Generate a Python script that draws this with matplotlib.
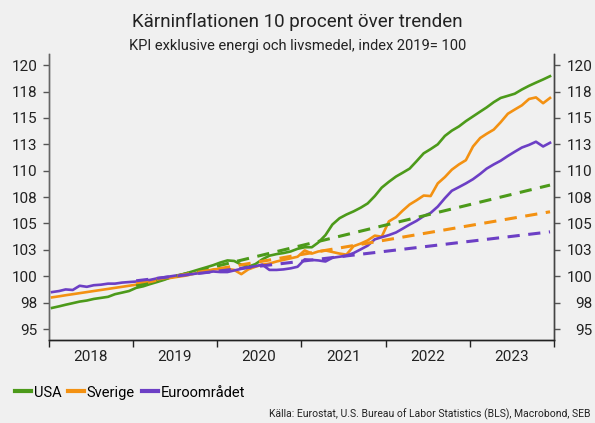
import matplotlib
matplotlib.use("Agg")
import matplotlib.pyplot as plt
import matplotlib.dates as mdates
import pandas as pd

# Månadsdata jan 2018 - dec 2023, index 2019 = 100
usa = [
    97.0, 97.15, 97.3, 97.45, 97.6, 97.7, 97.85, 97.95, 98.05, 98.3, 98.45, 98.6,
    98.9, 99.05, 99.25, 99.45, 99.65, 99.9, 100.05, 100.25, 100.45, 100.65, 100.85, 101.05,
    101.3, 101.5, 101.45, 101.1, 100.9, 101.15, 101.6, 101.95, 102.1, 102.2, 102.35, 102.6,
    102.75, 102.75, 103.2, 103.9, 104.9, 105.5, 105.85, 106.15, 106.5, 106.9, 107.6, 108.4,
    108.95, 109.45, 109.8, 110.2, 110.9, 111.65, 112.05, 112.5, 113.3, 113.8, 114.2, 114.7,
    115.15, 115.6, 116.0, 116.5, 116.9, 117.1, 117.3, 117.7, 118.05, 118.35, 118.65, 118.96,
]
sverige = [
    98.0, 98.1, 98.2, 98.3, 98.4, 98.5, 98.6, 98.7, 98.8, 98.9, 99.0, 99.1,
    99.2, 99.3, 99.45, 99.6, 99.75, 99.85, 99.95, 100.05, 100.2, 100.35, 100.5, 100.65,
    100.7, 100.7, 100.6, 100.2, 100.65, 100.9, 101.1, 101.2, 101.4, 101.55, 101.7, 101.85,
    102.45, 102.15, 102.35, 102.45, 102.3, 102.15, 102.05, 102.85, 103.1, 103.4, 103.85, 103.75,
    105.2, 105.6, 106.2, 106.8, 107.2, 107.65, 107.6, 108.8, 109.4, 110.1, 110.6, 111.0,
    112.3, 113.1, 113.5, 113.9, 114.6, 115.4, 115.8, 116.2, 116.8, 116.95, 116.4, 116.9,
]
euro = [
    98.5, 98.6, 98.75, 98.7, 99.1, 99.0, 99.15, 99.2, 99.3, 99.3, 99.4, 99.45,
    99.5, 99.55, 99.65, 99.8, 99.9, 100.0, 100.1, 100.15, 100.2, 100.3, 100.35, 100.45,
    100.4, 100.4, 100.55, 100.7, 100.85, 100.95, 101.1, 100.6, 100.6, 100.65, 100.75, 100.9,
    101.6, 101.55, 101.5, 101.4, 101.75, 101.85, 101.95, 102.2, 102.55, 102.9, 103.5, 103.7,
    103.9, 104.15, 104.5, 104.9, 105.25, 105.7, 106.0, 106.6, 107.4, 108.1, 108.45, 108.8,
    109.2, 109.7, 110.2, 110.6, 110.95, 111.4, 111.8, 112.2, 112.45, 112.75, 112.3, 112.65,
]

# Trendlinjer: värde i jan 2019 och dec 2023
trend_usa = [99.1, 108.64]
trend_sverige = [99.37, 106.11]
trend_euro = [99.57, 104.21]

serier = ["USA", "Sverige", "Euroområdet"]
farger = ["#4c9a1a", "#f39112", "#6c3fc5"]

yticks = [95, 97.5, 100, 102.5, 105, 107.5, 110, 112.5, 115, 117.5, 120]
ytick_labels = ["95", "98", "100", "103", "105", "108", "110", "113", "115", "118", "120"]

bg = "#f0f0f0"
plt.rcParams["font.family"] = ["Roboto", "DejaVu Sans"]

datum = pd.date_range("2018-01-01", periods=72, freq="MS") + pd.Timedelta(days=14)
trend_datum = [datum[12], datum[-1]]

fig = plt.figure(figsize=(5.95, 4.23), dpi=100, facecolor=bg)
ax = fig.add_axes([0.082, 0.196, 0.849, 0.676], facecolor=bg)

for namn, data, farg in zip(serier, [usa, sverige, euro], farger):
    ax.plot(datum, data, color=farg, lw=1.9, label=namn, zorder=3,
            solid_joinstyle="round")
for trend, farg in zip([trend_usa, trend_sverige, trend_euro], farger):
    ax.plot(trend_datum, trend, color=farg, lw=2.2, ls=(0, (4, 2.8)), zorder=4)

ax.set_xlim(pd.Timestamp("2018-01-01"), pd.Timestamp("2024-01-01"))
ax.set_ylim(93.95, 121.05)

ax.set_yticks(yticks)
ax.set_yticklabels(ytick_labels)
ax.tick_params(axis="y", which="both", left=True, right=False, labelleft=True,
               labelright=False, length=4, width=1, color="#555555",
               labelsize=11, pad=4, labelcolor="#222222")

# Högeraxel med högerjusterade etiketter
ax2 = ax.twinx()
ax2.set_ylim(ax.get_ylim())
ax2.set_yticks(yticks)
ax2.set_yticklabels(ytick_labels, ha="right")
ax2.tick_params(axis="y", length=4, width=1, color="#555555", labelsize=11,
                pad=23.5, labelcolor="#222222")

ax.xaxis.set_major_locator(mdates.YearLocator())
ax.xaxis.set_major_formatter(plt.NullFormatter())
ax.xaxis.set_minor_locator(mdates.MonthLocator(bymonth=7))
ax.xaxis.set_minor_formatter(mdates.DateFormatter("%Y"))
ax.tick_params(axis="x", which="major", length=5, width=1, color="#222222")
ax.tick_params(axis="x", which="minor", length=0, labelsize=11, pad=7,
               labelcolor="#222222")

for a in (ax, ax2):
    a.spines["top"].set_visible(False)
    a.spines["left"].set_color("#666666")
    a.spines["right"].set_color("#444444")
    a.spines["bottom"].set_color("#222222")
    for s in a.spines.values():
        s.set_linewidth(1)

fig.text(0.5, 0.948, "Kärninflationen 10 procent över trenden", ha="center",
         va="center", fontsize=13.5, color="#222222")
fig.text(0.5, 0.891, "KPI exklusive energi och livsmedel, index 2019= 100",
         ha="center", va="center", fontsize=10.5, color="#222222")

handles, labels = ax.get_legend_handles_labels()
leg = fig.legend(handles, labels, loc="center left", bbox_to_anchor=(0.015, 0.072),
                 ncol=3, frameon=False, fontsize=10.5, handlelength=1.1,
                 handletextpad=0.2, columnspacing=0.45, borderaxespad=0)
for h in leg.get_lines():
    h.set_linewidth(3)

fig.text(0.992, 0.008, "Källa: Eurostat, U.S. Bureau of Labor Statistics (BLS), Macrobond, SEB",
         ha="right", va="bottom", fontsize=7.5, color="#222222")

fig.savefig("out.png", dpi=100, facecolor=bg)
